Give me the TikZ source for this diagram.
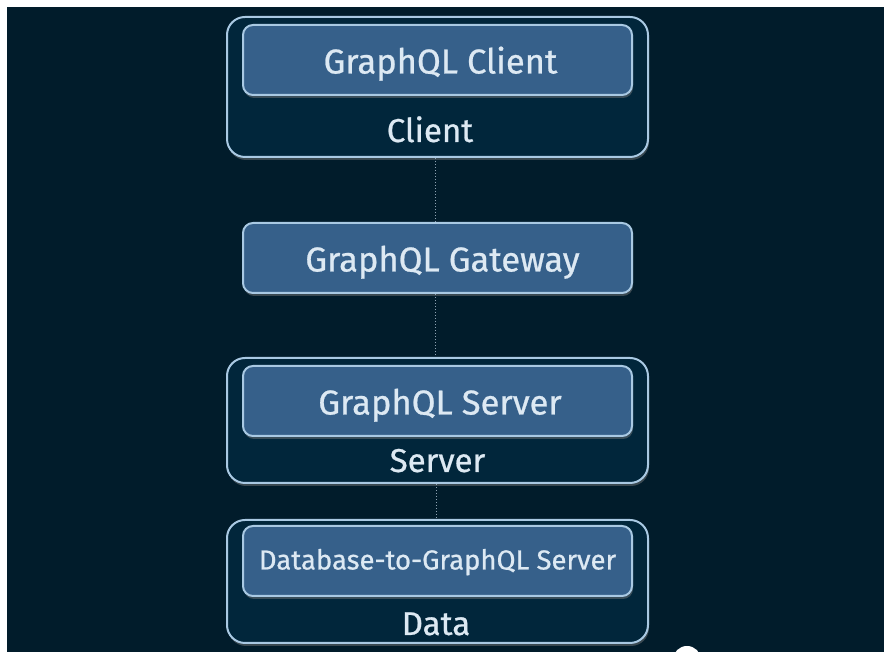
\documentclass[tikz,border=0pt]{standalone}
\usepackage{fontspec}
\setmainfont{Fira Sans}[UprightFeatures={FakeBold=0.7}]
\usetikzlibrary{shadows}
\definecolor{bgc}{HTML}{011C2B}
\definecolor{outerfill}{HTML}{01263B}
\definecolor{edgec}{HTML}{A9C9E3}
\definecolor{innerfill}{HTML}{36608A}
\definecolor{txtc}{HTML}{DDE9F3}
\definecolor{connc}{HTML}{8FA3B3}
\tikzset{
  x=1pt,y=1pt,
  outerbox/.style={draw=edgec, line width=2pt, fill=outerfill, rounded corners=18pt,
    minimum width=421pt, inner sep=0pt,
    drop shadow={opacity=0.45, shadow xshift=1pt, shadow yshift=-3pt}},
  innerbox/.style={draw=edgec, line width=2pt, fill=innerfill, rounded corners=10pt,
    minimum width=389pt, minimum height=70pt, inner sep=0pt, text=txtc,
    font=\fontsize{34.5}{36}\selectfont, text height=27pt, text depth=0pt,
    drop shadow={opacity=0.45, shadow xshift=1pt, shadow yshift=-3pt}},
  grouplabel/.style={text=txtc, font=\fontsize{33}{35}\selectfont, inner sep=0pt, anchor=base},
  conn/.style={draw=connc, line width=0.6pt, dash pattern=on 1.5pt off 1.5pt}
}
\begin{document}
\begin{tikzpicture}
\useasboundingbox (0,0) rectangle (884,652);
\fill[white] (0,0) rectangle (884,652);
\fill[bgc] (7,0) rectangle (884,645);
\fill[white] (687,-8) circle (14);

% Client group
\node[outerbox, minimum height=140pt] (clientgrp) at (437.5,565) {};
\node[innerbox] (client) at (437.5,592) {\hspace{6pt}GraphQL Client};
\node[grouplabel] (clientlbl) at (430,510) {Client};

% Gateway
\node[innerbox] (gateway) at (437.5,394) {\hspace{10pt}GraphQL Gateway};

% Server group
\node[outerbox, minimum height=125pt] (servergrp) at (437.5,231.5) {};
\node[innerbox] (server) at (437.5,251) {\hspace{5pt}GraphQL Server};
\node[grouplabel] (serverlbl) at (437.5,180) {Server};

% Data group
\node[outerbox, minimum height=123pt] (datagrp) at (437.5,70.5) {};
\node[innerbox, font=\fontsize{27.5}{29}\selectfont, text height=17pt] (dbserver) at (437.5,91) {Database-to-GraphQL Server};
\node[grouplabel] (datalbl) at (436,17) {Data};

% Connectors
\draw[conn] ([xshift=-2.5pt]clientgrp.south) -- ([xshift=-2.5pt]gateway.north);
\draw[conn] ([xshift=-2.5pt]gateway.south) -- ([xshift=-2.5pt]servergrp.north);
\draw[conn] ([xshift=-1.5pt]servergrp.south) -- ([xshift=-1.5pt]datagrp.north);
\end{tikzpicture}
\end{document}
